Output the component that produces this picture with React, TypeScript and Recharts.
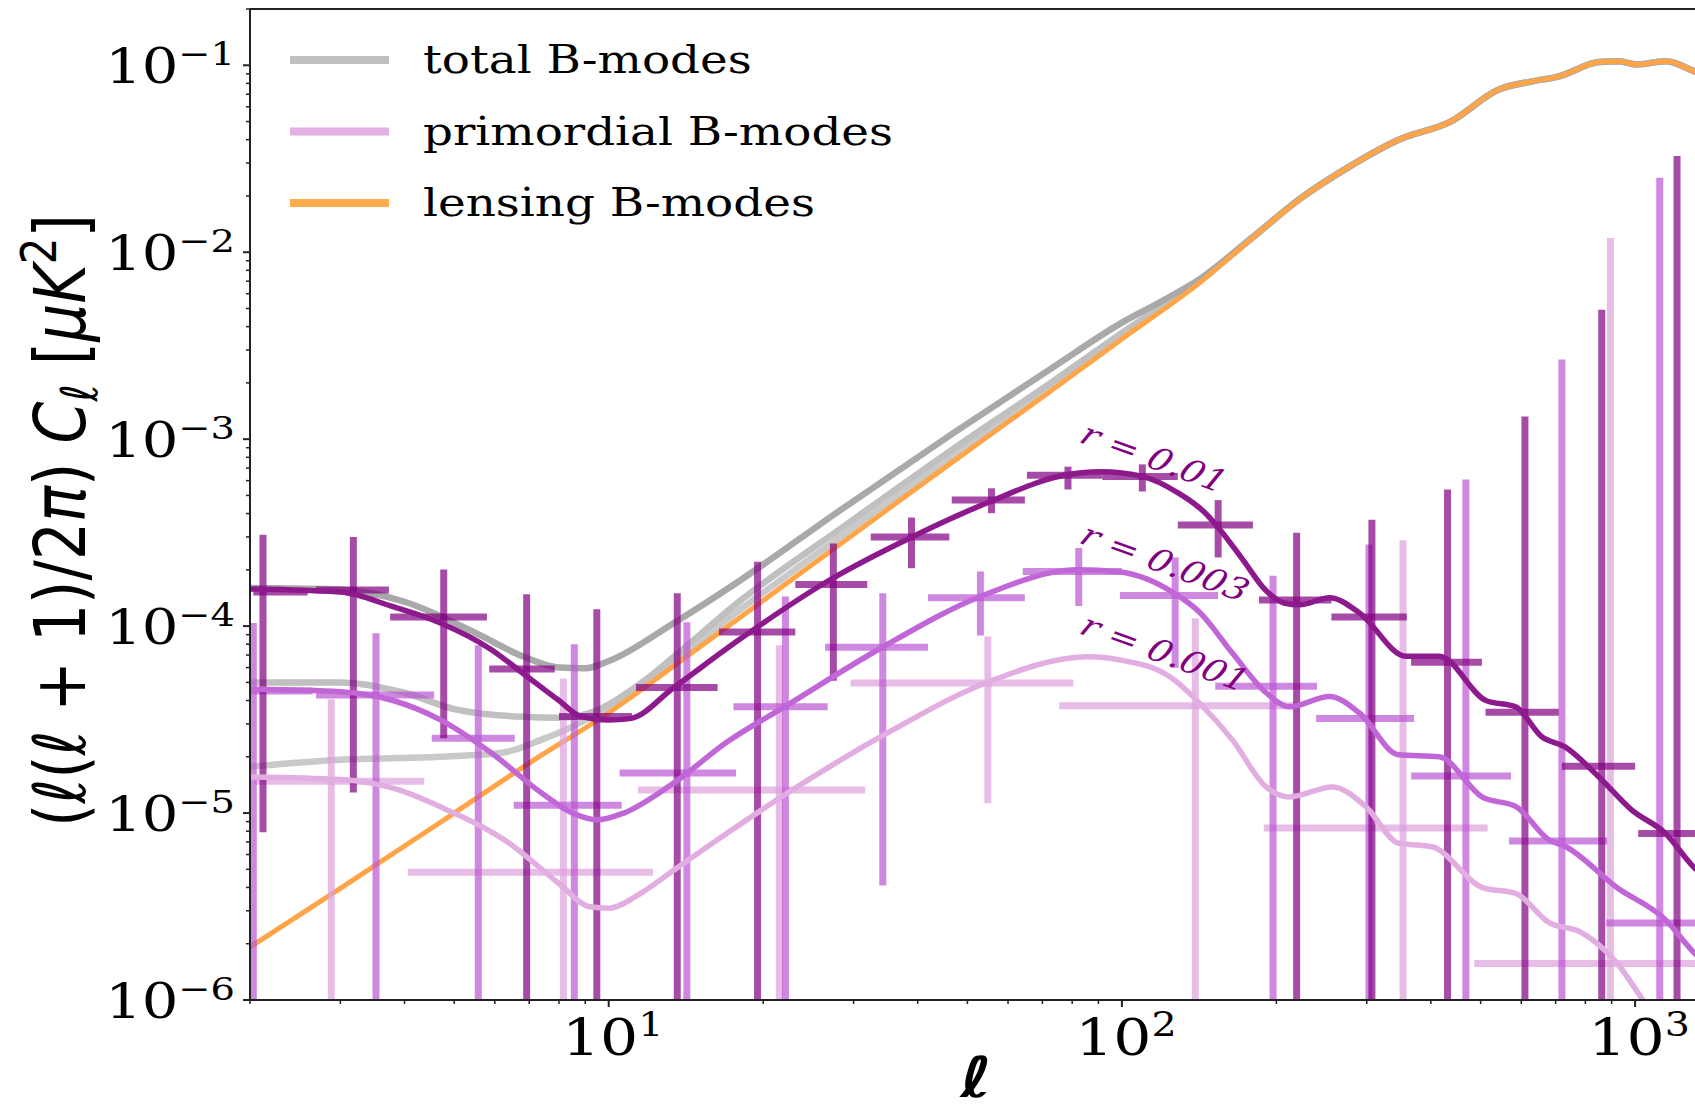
import React from "react";
import {
  ComposedChart,
  Line,
  XAxis,
  YAxis,
  ReferenceLine,
  ReferenceDot,
  Legend,
} from "recharts";

type Pt = [number, number];
// [ell, ell low edge, ell high edge, value, lower end, upper end]; 1e-8 = bar runs off the bottom
type Bin = [number, number, number, number, number, number];

const lensingBB: Pt[] = [
  [2, 1.92e-6], [3, 3.95e-6], [5, 1.0e-5], [7, 1.85e-5], [10, 3.44e-5], [14, 6.7e-5],
  [20, 1.37e-4], [30, 3.1e-4], [45, 7.0e-4], [70, 1.68e-3], [100, 3.44e-3], [142, 6.9e-3],
  [180, 1.2e-2], [222, 1.92e-2], [278, 2.88e-2], [348, 4.02e-2], [435, 4.96e-2],
  [544, 7.44e-2], [630, 8.2e-2], [711, 8.73e-2], [851, 1.04e-1], [930, 1.05e-1],
  [1005, 1.01e-1], [1148, 1.05e-1], [1303, 9.3e-2], [1400, 8.6e-2],
];

const totalR01: Pt[] = [
  [2, 1.6e-4], [3, 1.57e-4], [4, 1.35e-4], [5.5, 9.2e-5], [6.8, 6.9e-5], [8, 6.0e-5],
  [9, 5.95e-5], [10, 6.5e-5], [13.4, 1.04e-4], [18, 1.75e-4], [28, 4.1e-4], [47, 1.08e-3],
  [73, 2.4e-3], [100, 4.2e-3], [120, 5.5e-3], [142, 7.2e-3], [180, 1.21e-2], [222, 1.93e-2],
  [278, 2.88e-2], [348, 4.02e-2], [435, 4.96e-2], [544, 7.44e-2], [630, 8.2e-2],
  [711, 8.73e-2], [851, 1.04e-1], [930, 1.05e-1], [1005, 1.01e-1], [1148, 1.05e-1],
  [1303, 9.3e-2], [1400, 8.6e-2],
];

const totalR003: Pt[] = [
  [2, 5.0e-5], [3, 5.0e-5], [4, 4.4e-5], [5, 3.6e-5], [6.8, 3.27e-5], [8, 3.23e-5],
  [9.2, 3.44e-5], [11.5, 4.9e-5], [14, 7.6e-5], [18, 1.36e-4], [28, 3.25e-4],
  [47, 8.9e-4], [73, 2.02e-3], [100, 3.7e-3], [142, 7.1e-3], [180, 1.2e-2],
  [222, 1.92e-2], [278, 2.88e-2], [348, 4.02e-2], [435, 4.96e-2], [544, 7.44e-2],
  [630, 8.2e-2], [711, 8.73e-2], [851, 1.04e-1], [930, 1.05e-1], [1005, 1.01e-1],
  [1148, 1.05e-1], [1303, 9.3e-2], [1400, 8.6e-2],
];

const totalR001: Pt[] = [
  [2, 1.77e-5], [3, 1.93e-5], [4.7, 2.0e-5], [6.2, 2.1e-5], [7.4, 2.47e-5], [8.5, 2.9e-5],
  [10, 3.7e-5], [13.4, 6.6e-5], [18, 1.22e-4], [28, 2.95e-4], [47, 8.2e-4], [73, 1.92e-3],
  [100, 3.55e-3], [142, 7.0e-3], [180, 1.2e-2], [222, 1.92e-2], [278, 2.88e-2],
  [348, 4.02e-2], [435, 4.96e-2], [544, 7.44e-2], [630, 8.2e-2], [711, 8.73e-2],
  [851, 1.04e-1], [930, 1.05e-1], [1005, 1.01e-1], [1148, 1.05e-1], [1303, 9.3e-2],
  [1400, 8.6e-2],
];

const primR01: Pt[] = [
  [2, 1.58e-4], [3, 1.52e-4], [3.8, 1.27e-4], [4.7, 1.04e-4], [5.9, 7.5e-5], [6.8, 5.6e-5],
  [8, 4.0e-5], [8.8, 3.3e-5], [10, 3.15e-5], [11, 3.2e-5], [13.4, 4.7e-5], [18, 8.5e-5],
  [27, 1.77e-4], [39, 3.0e-4], [55, 4.6e-4], [78, 6.45e-4], [91, 6.7e-4], [110, 6.3e-4],
  [128, 5.2e-4], [145, 4.05e-4], [155, 3.3e-4], [172, 2.27e-4], [190, 1.57e-4],
  [207, 1.33e-4], [222, 1.3e-4], [254, 1.42e-4], [290, 1.18e-4], [358, 6.9e-5],
  [415, 6.9e-5], [512, 4.0e-5], [585, 3.7e-5], [658, 2.56e-5], [730, 2.26e-5],
  [850, 1.56e-5], [984, 1.04e-5], [1145, 7.8e-6], [1300, 5.15e-6], [1400, 4.3e-6],
];

const primR003: Pt[] = [
  [2, 4.6e-5], [3, 4.46e-5], [3.8, 4.0e-5], [4.7, 3.15e-5], [5.9, 2.1e-5], [7.4, 1.28e-5],
  [8.5, 1.0e-5], [9.5, 9.2e-6], [10.7, 1.0e-5], [13.4, 1.45e-5], [17, 2.4e-5], [22, 3.7e-5],
  [34, 7.66e-5], [53, 1.44e-4], [82, 2.0e-4], [99, 1.95e-4], [126, 1.51e-4], [142, 1.18e-4],
  [164, 7.2e-5], [191, 4.4e-5], [212, 3.7e-5], [254, 4.2e-5], [290, 3.44e-5],
  [346, 2.05e-5], [415, 2.0e-5], [503, 1.22e-5], [587, 1.08e-5], [679, 7.2e-6],
  [733, 6.6e-6], [921, 4.0e-6], [1144, 2.7e-6], [1300, 1.8e-6], [1400, 1.5e-6],
];

const primR001: Pt[] = [
  [2, 1.56e-5], [3, 1.51e-5], [3.9, 1.33e-5], [4.7, 1.08e-5], [6.4, 6.9e-6], [8, 4.2e-6],
  [9.2, 3.15e-6], [10, 3.1e-6], [11.5, 3.7e-6], [13.4, 4.96e-6], [17, 7.8e-6],
  [22.3, 1.28e-5], [35, 2.69e-5], [55, 5.04e-5], [86, 6.86e-5], [99, 6.6e-5],
  [124, 5.36e-5], [142, 3.85e-5], [164, 2.47e-5], [191, 1.38e-5], [212, 1.22e-5],
  [257, 1.38e-5], [299, 1.08e-5], [346, 6.9e-6], [402, 6.6e-6], [503, 4.0e-6],
  [587, 3.7e-6], [679, 2.6e-6], [785, 2.3e-6], [921, 1.58e-6], [1050, 9.5e-7],
  [1200, 6e-7],
];

const binsR01: Bin[] = [
  [2.12, 2.03, 2.59, 1.52e-4, 7.9e-6, 3.08e-4],
  [3.18, 2.69, 3.73, 1.56e-4, 1.29e-5, 3.0e-4],
  [4.77, 3.75, 5.79, 1.12e-4, 2.51e-5, 2.01e-4],
  [6.92, 5.85, 7.85, 5.9e-5, 1e-8, 1.48e-4],
  [9.48, 8.0, 11.1, 3.28e-5, 1e-8, 1.23e-4],
  [13.6, 11.3, 16.3, 4.7e-5, 1e-8, 1.5e-4],
  [19.5, 16.4, 23.1, 9.3e-5, 1e-8, 2.21e-4],
  [27.4, 23.1, 31.9, 1.67e-4, 5.1e-5, 2.77e-4],
  [38.9, 32.4, 46.1, 3.0e-4, 2.04e-4, 3.81e-4],
  [55.7, 46.6, 64.7, 4.72e-4, 4.02e-4, 5.46e-4],
  [78.5, 65.3, 91.6, 6.41e-4, 5.38e-4, 7.13e-4],
  [109.6, 91.6, 128.5, 6.32e-4, 5.25e-4, 7.33e-4],
  [154, 128.5, 180, 3.47e-4, 2.33e-4, 4.72e-4],
  [219, 185, 256, 1.38e-4, 1e-8, 3.16e-4],
  [307, 256, 359, 1.12e-4, 1e-8, 3.71e-4],
  [431, 366, 503, 6.4e-5, 1e-8, 5.38e-4],
  [610, 511, 710, 3.46e-5, 1e-8, 1.32e-3],
  [861, 720, 1000, 1.78e-5, 1e-8, 4.92e-3],
  [1207, 1014, 1429, 7.78e-6, 1e-8, 3.27e-2],
];

const binsR003: Bin[] = [
  [2.03, 2.0, 2.65, 4.5e-5, 1e-8, 1.04e-4],
  [3.52, 2.69, 4.57, 4.28e-5, 1e-8, 9.17e-5],
  [5.57, 4.52, 6.56, 2.51e-5, 1e-8, 7.91e-5],
  [8.57, 6.53, 10.6, 1.1e-5, 1e-8, 8.0e-5],
  [14.2, 10.5, 17.7, 1.64e-5, 1e-8, 1.05e-4],
  [22.1, 17.5, 26.7, 3.7e-5, 1e-8, 1.44e-4],
  [34.2, 26.4, 41.9, 7.71e-5, 4.1e-6, 1.5e-4],
  [53.0, 41.9, 64.7, 1.42e-4, 8.91e-5, 1.96e-4],
  [82.4, 64.1, 100, 1.96e-4, 1.28e-4, 2.62e-4],
  [127, 99.1, 154, 1.46e-4, 5.98e-5, 2.33e-4],
  [197, 152, 240, 4.77e-5, 1e-8, 1.86e-4],
  [303, 239, 371, 3.2e-5, 1e-8, 2.73e-4],
  [468, 366, 573, 1.58e-5, 1e-8, 6.08e-4],
  [720, 568, 882, 7.09e-6, 1e-8, 2.67e-3],
  [1117, 878, 1429, 2.58e-6, 1e-8, 2.5e-2],
];

const binsR001: Bin[] = [
  [2.88, 2.04, 4.37, 1.48e-5, 1e-8, 4.06e-5],
  [8.16, 4.06, 12.2, 4.82e-6, 1e-8, 5.24e-5],
  [21.5, 11.4, 31.6, 1.33e-5, 1e-8, 7.91e-5],
  [54.8, 29.6, 80.4, 4.96e-5, 1.13e-5, 8.8e-5],
  [139, 75.5, 222, 3.75e-5, 1e-8, 1.1e-4],
  [353, 189, 516, 8.32e-6, 1e-8, 2.88e-4],
  [895, 486, 1500, 1.57e-6, 1e-8, 1.19e-2],
];

const rLabels = [
  { text: "r = 0.01", ell: 82, value: 9.7e-4 },
  { text: "r = 0.003", ell: 82, value: 2.8e-4 },
  { text: "r = 0.001", ell: 82, value: 9.2e-5 },
];

const legendItems = [
  { label: "total B-modes", color: "#C0C0C0" },
  { label: "primordial B-modes", color: "#E2B0E2" },
  { label: "lensing B-modes", color: "#FFAA4D" },
];

const xTicks = [
  2, 3, 4, 5, 6, 7, 8, 9, 10, 20, 30, 40, 50, 60, 70, 80, 90, 100,
  200, 300, 400, 500, 600, 700, 800, 900, 1000,
];
const yTicks: number[] = [];
for (let e = -6; e <= -1; e++) {
  for (let k = 1; k <= 9; k++) {
    const v = k * Math.pow(10, e);
    if (v <= 0.2000001) yTicks.push(v);
  }
}

const SERIF = "'DejaVu Serif', serif";
const SANS = "'DejaVu Sans', sans-serif";
const AXIS = "#222";
const SX = 1.2; // the original figure is stretched sideways

const rows = (pts: Pt[]) => pts.map(([l, c]) => ({ l, c }));
const decade = (v: number) => {
  const e = Math.round(Math.log10(v));
  return { e, major: Math.abs(Math.log10(v) - e) < 1e-6 };
};
const expText = (e: number) => (e < 0 ? `\u2212${-e}` : `${e}`);

function XTick(props: any) {
  const { x, y, payload } = props;
  const { e, major } = decade(payload.value);
  return (
    <g>
      <line x1={x} x2={x} y1={y} y2={y + (major ? 7 : 4)} stroke={AXIS} strokeWidth={major ? 2 : 1.5} />
      {major && (
        <text transform={`translate(${x + 4},${y + 55}) scale(${SX},1)`} textAnchor="middle" fontFamily={SERIF} fontSize={50} fill="#000">
          10<tspan dy={-19} fontSize={33}>{expText(e)}</tspan>
        </text>
      )}
    </g>
  );
}

function YTick(props: any) {
  const { x, y, payload } = props;
  const { e, major } = decade(payload.value);
  return (
    <g>
      <line x1={x} x2={x - (major ? 7 : 4)} y1={y} y2={y} stroke={AXIS} strokeWidth={major ? 2 : 1.5} />
      {major && (
        <text transform={`translate(${x - 15},${y + 18}) scale(${SX},1)`} textAnchor="end" fontFamily={SERIF} fontSize={48} fill="#000">
          10<tspan dy={-18} fontSize={32}>{expText(e)}</tspan>
        </text>
      )}
    </g>
  );
}

function XTitle(props: any) {
  const vb = props.viewBox || { x: 250, y: 1000, width: 1452, height: 112 };
  return (
    <text
      transform={`translate(${vb.x + vb.width / 2},${vb.y + 97}) scale(${SX},1)`}
      textAnchor="middle"
      fontFamily={SANS}
      fontStyle="italic"
      fontWeight="bold"
      fontSize={56}
      fill="#000"
    >
      ℓ
    </text>
  );
}

function YTitle(props: any) {
  const vb = props.viewBox || { x: 0, y: 9, width: 250, height: 991 };
  const cx = 85;
  const cy = vb.y + vb.height / 2 + 16;
  return (
    <text transform={`translate(${cx},${cy}) scale(${SX},1) rotate(-90)`} textAnchor="middle" fontFamily={SANS} fontSize={60} fill="#000">
      (<tspan fontStyle="italic">ℓ</tspan>(<tspan fontStyle="italic">ℓ</tspan>{" + 1)/2"}<tspan fontStyle="italic">π</tspan>{") "}
      <tspan fontStyle="italic">C</tspan>
      <tspan fontStyle="italic" fontSize={42} dy={10}>ℓ</tspan>
      <tspan dy={-10}>{" ["}</tspan>
      <tspan fontStyle="italic">μK</tspan>
      <tspan fontSize={42} dy={-24}>2</tspan>
      <tspan dy={24}>]</tspan>
    </text>
  );
}

function renderLegend() {
  return (
    <svg width={900} height={240} style={{ display: "block" }}>
      {legendItems.map((it, i) => {
        const cy = 60 + i * 71.5;
        return (
          <g key={it.label}>
            <line x1={290} x2={389} y1={cy} y2={cy} stroke={it.color} strokeWidth={8} />
            <text transform={`translate(423,${cy + 13}) scale(${SX},1)`} fontFamily={SERIF} fontSize={39} fill="#000">
              {it.label}
            </text>
          </g>
        );
      })}
    </svg>
  );
}

function crosses(bins: Bin[], color: string, id: string) {
  return bins.map(([l, lo, hi, c, cLo, cHi], i) => (
    <React.Fragment key={`${id}-${i}`}>
      <ReferenceLine
        segment={[{ x: lo, y: c }, { x: hi, y: c }]}
        stroke={color}
        strokeOpacity={0.7}
        strokeWidth={7}
        ifOverflow="hidden"
      />
      <ReferenceLine
        segment={[{ x: l, y: cLo }, { x: l, y: cHi }]}
        stroke={color}
        strokeOpacity={0.7}
        strokeWidth={7}
        ifOverflow="hidden"
      />
    </React.Fragment>
  ));
}

export default function App() {
  return (
    <div style={{ position: "absolute", left: 0, top: 0, width: 1695, height: 1112, overflow: "hidden", background: "#fff" }}>
      <ComposedChart width={1702} height={1112} margin={{ top: 9, right: 0, bottom: 0, left: 0 }}>
        <XAxis
          type="number"
          dataKey="l"
          scale="log"
          domain={[2, 1350]}
          allowDataOverflow
          ticks={xTicks}
          interval={0}
          tickSize={0}
          tickMargin={0}
          tickLine={false}
          tick={(p: any) => <XTick {...p} />}
          axisLine={{ stroke: AXIS, strokeWidth: 2 }}
          height={112}
          label={{ content: (p: any) => <XTitle {...p} /> }}
        />
        <YAxis
          type="number"
          scale="log"
          domain={[1e-6, 0.2]}
          allowDataOverflow
          ticks={yTicks}
          interval={0}
          tickSize={0}
          tickMargin={0}
          tickLine={false}
          tick={(p: any) => <YTick {...p} />}
          axisLine={{ stroke: AXIS, strokeWidth: 2 }}
          width={250}
          label={{ content: (p: any) => <YTitle {...p} /> }}
        />
        <Legend
          layout="vertical"
          align="center"
          verticalAlign="middle"
          wrapperStyle={{ left: 0, top: 0, width: 900, height: 240 }}
          content={renderLegend}
        />

        <Line data={rows(totalR001)} dataKey="c" type="monotone" stroke="#C9C9C9" strokeWidth={6.5} dot={false} isAnimationActive={false} />
        <Line data={rows(totalR003)} dataKey="c" type="monotone" stroke="#C0C0C0" strokeWidth={6.5} dot={false} isAnimationActive={false} />
        <Line data={rows(totalR01)} dataKey="c" type="monotone" stroke="#A9A9A9" strokeWidth={6.5} dot={false} isAnimationActive={false} />
        <Line data={rows(lensingBB)} dataKey="c" type="monotone" stroke="#FFA447" strokeWidth={5} dot={false} isAnimationActive={false} />

        {crosses(binsR001, "#DDA0DD", "r001")}
        {crosses(binsR003, "#BA55D3", "r003")}
        {crosses(binsR01, "#800080", "r01")}

        <Line data={rows(primR001)} dataKey="c" type="monotone" stroke="#E2AEE2" strokeWidth={5.5} dot={false} isAnimationActive={false} />
        <Line data={rows(primR003)} dataKey="c" type="monotone" stroke="#C166D7" strokeWidth={5.5} dot={false} isAnimationActive={false} />
        <Line data={rows(primR01)} dataKey="c" type="monotone" stroke="#8D1A8D" strokeWidth={5.5} dot={false} isAnimationActive={false} />

        <ReferenceLine y={0.2} stroke={AXIS} strokeWidth={2} />

        {rLabels.map((r) => (
          <ReferenceDot
            key={r.text}
            x={r.ell}
            y={r.value}
            r={0}
            ifOverflow="visible"
            shape={(p: any) => (
              <text
                transform={`translate(${p.cx},${p.cy}) scale(${SX},1) rotate(23.5)`}
                fontFamily={SERIF}
                fontStyle="italic"
                fontSize={31}
                fill="#800080"
              >
                {r.text}
              </text>
            )}
          />
        ))}
      </ComposedChart>
    </div>
  );
}
